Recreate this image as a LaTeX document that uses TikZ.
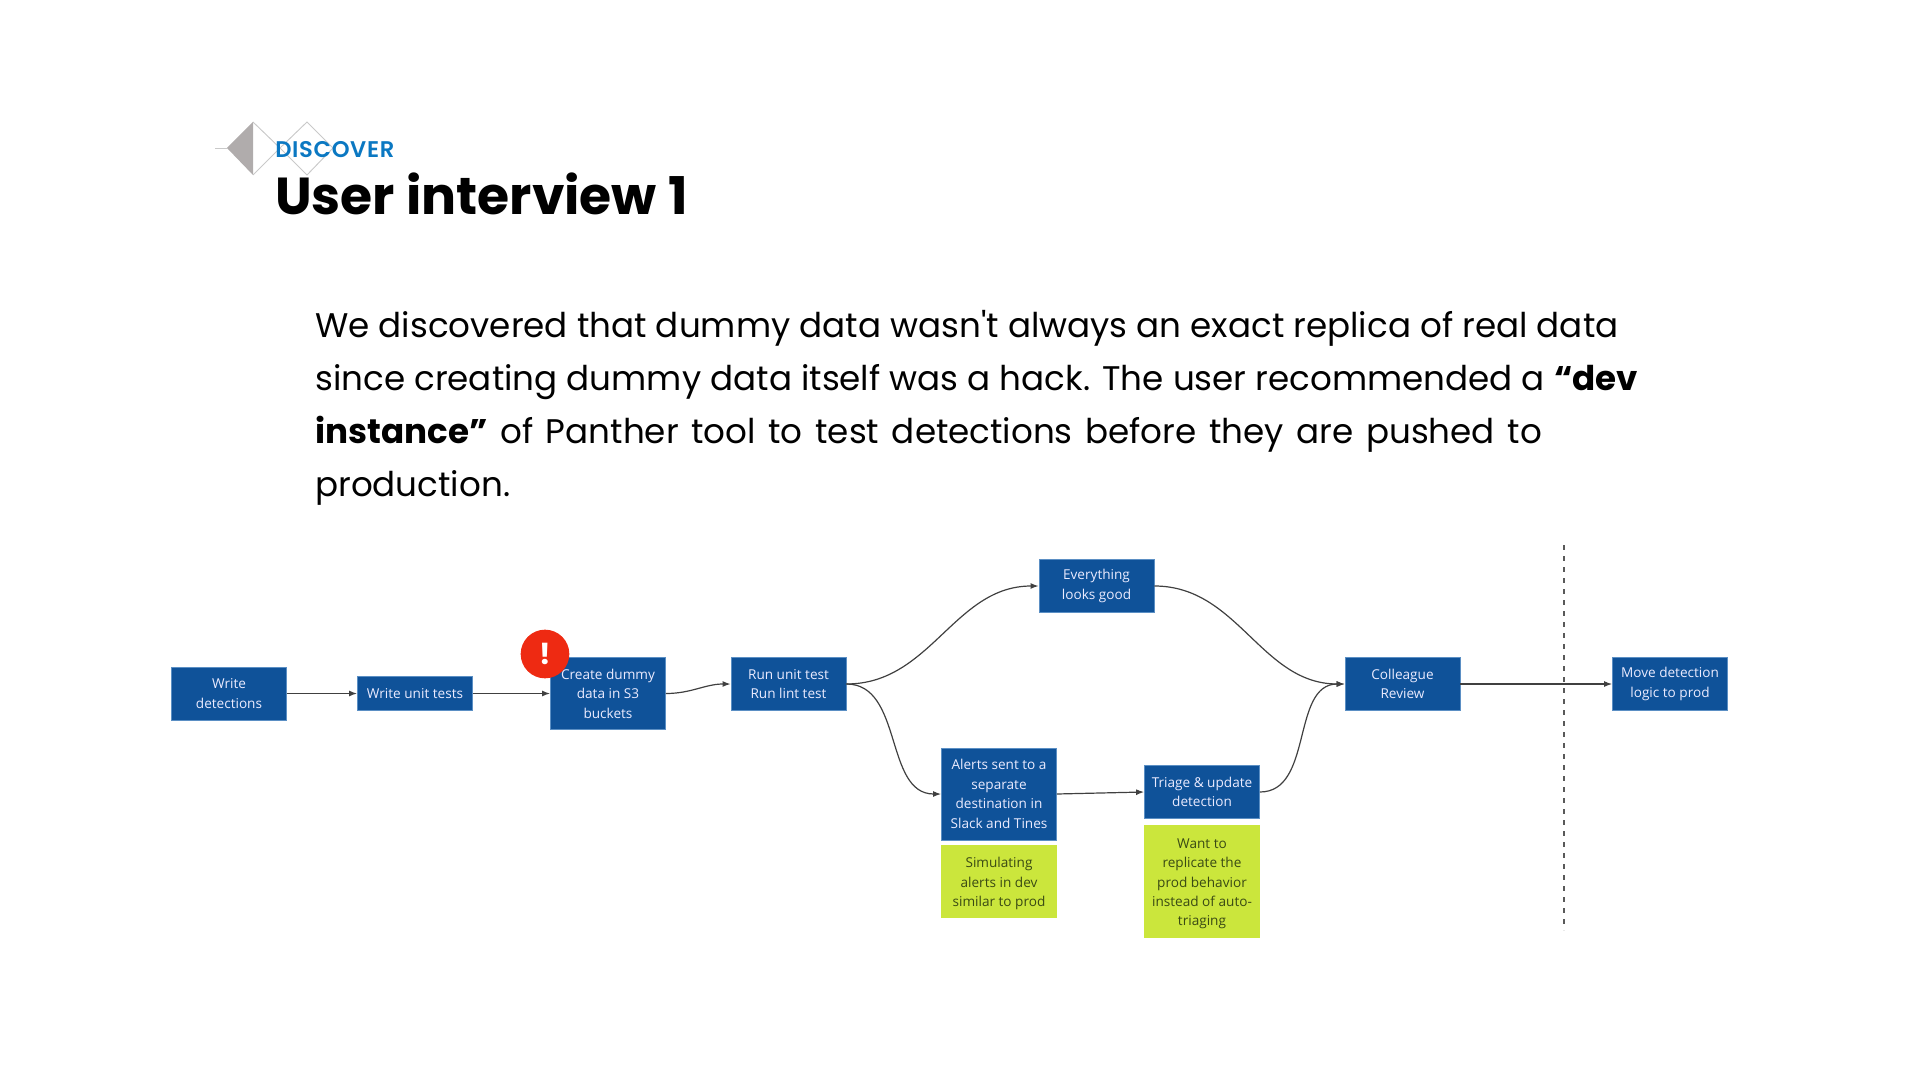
\documentclass[tikz,border=0pt]{standalone}
\usepackage{fontspec}
\setmainfont{Poppins}[Ligatures=TeXOff]
\newfontfamily\boxfont{Open Sans}
\newfontfamily\kickerfont{Poppins SemiBold}[LetterSpace=3]
\usetikzlibrary{arrows.meta}
\definecolor{boxblue}{HTML}{0F5299}
\definecolor{boxedge}{HTML}{5B8FC4}
\definecolor{notegreen}{HTML}{CBE63C}
\definecolor{notetext}{HTML}{3A4A14}
\definecolor{logogrey}{HTML}{B0ACAC}
\definecolor{logoline}{HTML}{C9C9C9}
\definecolor{headblue}{HTML}{0B78C2}
\definecolor{flagred}{HTML}{EE2A12}
\newcommand{\notestrut}{\rule{0pt}{11.5pt}}
\tikzset{
  stepbox/.style={draw=boxedge,line width=0.4pt,fill=boxblue,text=white!92!blue,inner sep=0pt,minimum width=86.5pt,align=center,font=\boxfont\fontsize{10.2pt}{14.6pt}\selectfont},
  notebox/.style={stepbox,draw=notegreen,fill=notegreen,text=notetext},
  flow/.style={-{Latex[length=6pt,width=4.5pt]},draw=black!75,line width=0.9pt}
}
\begin{document}
\begin{tikzpicture}[x=0.75pt,y=-0.75pt]
  \useasboundingbox (0,0) rectangle (1920,1080);

  % logo
  \draw[logoline,line width=0.7pt] (215,148) -- (227,148);
  \draw[logoline,line width=0.7pt] (253,122) -- (280,148) -- (253,175);
  \draw[logoline,line width=0.7pt] (280,148) -- (307,122) -- (333,148) -- (307,175) -- cycle;
  \fill[logogrey] (227,148) -- (253,122) -- (253,175) -- cycle;

  \node[anchor=base west,inner sep=0pt,text=headblue,font=\kickerfont\fontsize{17pt}{20pt}\selectfont] (kicker) at (275,158) {DISCOVER};
  \node[anchor=base west,inner sep=0pt,font=\fontsize{39pt}{44pt}\selectfont\bfseries] (title) at (275,215) {User interview 1};

  \node[anchor=north west,inner sep=0pt,align=left,font=\fontsize{25.6pt}{39.8pt}\selectfont] (body) at (315,310) {We discovered that dummy data wasn't always an exact replica of real data\\
    since creating dummy data itself was a hack. The user recommended a \textbf{“dev}\\
    \makebox[920pt][s]{\textbf{instance”} of Panther tool to test detections before they are pushed to}\\
    production.};

  % steps
  \node[stepbox,minimum height=40pt] (write) at (229,693.5) {Write\\detections};
  \node[stepbox,minimum height=25.5pt] (tests) at (415,693.5) {Write unit tests};
  \node[stepbox,minimum height=54pt] (dummy) at (608,693.5) {Create dummy\\data in S3\\buckets};
  \node[stepbox,minimum height=40pt] (lint) at (788.5,684) {Run unit test\\Run lint test};
  \node[stepbox,minimum height=40pt] (good) at (1096.5,586) {Everything\\looks good};
  \node[stepbox,minimum height=69pt] (alerts) at (999,794) {Alerts sent to a\\separate\\destination in\\Slack and Tines};
  \node[stepbox,minimum height=40pt] (triage) at (1202,792) {Triage \& update\\detection};
  \node[notebox,minimum height=54pt] (simulate) at (999,881) {\notestrut Simulating\\alerts in dev\\similar to prod};
  \node[notebox,minimum height=84pt] (replicate) at (1202,881) {\notestrut Want to\\replicate the\\prod behavior\\instead of auto-\\triaging};
  \node[stepbox,minimum height=40pt] (review) at (1402.5,684) {Colleague\\Review};
  \node[stepbox,minimum height=40pt] (prod) at (1670,684) {Move detection\\logic to prod};

  \node[circle,fill=flagred,text=white,inner sep=0pt,minimum size=36.5pt,font=\fontsize{22pt}{24pt}\selectfont\bfseries] (flag) at (545,654) {!};

  % connectors
  \draw[flow] (write) -- (tests);
  \draw[flow] (tests) -- (dummy);
  \draw[flow] (dummy.east) to[out=0,in=180] (lint.west);
  \draw[flow] (lint.east) to[out=0,in=180] (good.west);
  \draw[flow] (lint.east) to[out=0,in=180] (alerts.west);
  \draw[flow] (alerts.east) -- (triage.west);
  \draw[flow] (good.east) to[out=0,in=180] (review.west);
  \draw[flow] (triage.east) to[out=0,in=180] (review.west);
  \draw[flow] (review) -- (prod);

  \coordinate (gatetop) at (1564,545);
  \coordinate (gatebottom) at (1564,930);
  \draw[black!65,line width=1.2pt,dash pattern=on 3.6pt off 4.65pt] (gatetop) -- (gatebottom);
\end{tikzpicture}
\end{document}
